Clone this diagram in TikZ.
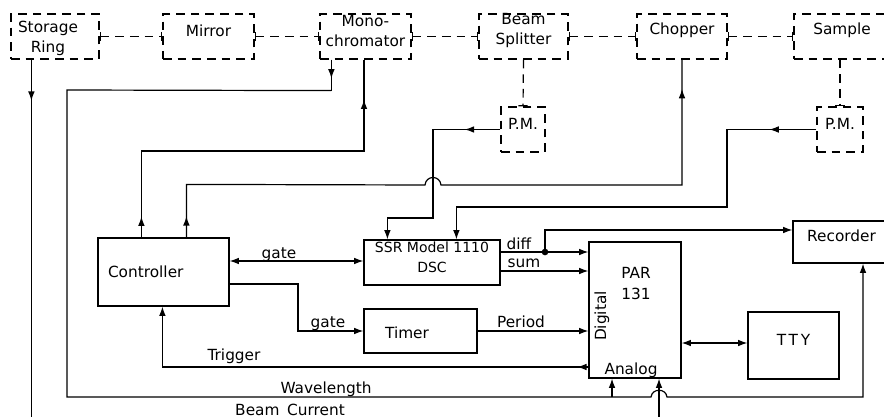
\documentclass[tikz,border=0pt]{standalone}
\usepackage{fontspec}
\setmainfont{DejaVu Sans}
\usetikzlibrary{arrows.meta,calc,fit,decorations.markings}
\tikzset{
  >={Latex[length=7pt,width=5pt]},
  dpat/.style={dash pattern=on 6.5pt off 4.5pt},
  bx/.style={draw, inner sep=0pt, align=center},
  dbx/.style={bx, dpat},
  dline/.style={dpat, {Bar[width=7pt]}-{Bar[width=7pt]}},
  dvline/.style={dpat, -{Bar[width=7pt]}},
  marr/.style={postaction={decorate, decoration={markings, mark=at position #1 with {\arrow{>}}}}},
  lbl/.style={anchor=base},
  jdot/.style={circle, fill, inner sep=0pt, minimum size=5pt},
}
\begin{document}
\begin{tikzpicture}[x=0.75pt,y=-0.75pt,line width=0.9pt,font=\fontsize{11.5}{15}\selectfont]
\clip (0,0) rectangle (884,417);
% ---- optical path boxes
\node[dbx, fit={(11,14)(99,59)}] (sr) {};
\node[align=center] (srt) at (48,38) {Storage\\Ring};
\node[dbx, fit={(163,14)(254,59)}] (mir) {Mirror};
\node[dbx, fit={(320,14)(411,59)}] (mono) {Mono-\\chromator};
\node[dbx, fit={(479,14)(568,59)}] (bs) {Beam\\Splitter};
\node[dbx, fit={(637,14)(727,59)}] (chop) {Chopper};
\node[dbx, fit={(794,14)(890,59)}] (samp) {Sample};
\node[dbx, fit={(501,107)(545,152)}] (pm1) {P.M.};
\node[dbx, fit={(817,107)(863,152)}] (pm2) {P.M.};
% ---- electronics
\node[bx, fit={(98,238)(229,306)}] (ctrl) {};
\node[anchor=base west] (ctrlt) at (103,277) {Controller};
\node[bx, fit={(364,240)(500,285)}, font=\fontsize{10.5}{15}\selectfont] (ssr) {SSR Model 1110\\DSC};
\node[bx, fit={(364,309)(477,353)}] (timer) {};
\node[lbl] (timert) at (407,338) {Timer};
\node[bx, fit={(589,242)(681,378)}] (par) {};
\node[lbl] (part) at (636,278) {PAR};
\node[lbl] (par131) at (636,299) {131};
\node[rotate=90] (dig) at (602,316) {Digital};
\node[lbl] (ana) at (631,374) {Analog};
\node[bx, fit={(748,312)(839,379)}] (tty) {\addfontfeature{LetterSpace=18}TTY};
\node[bx, fit={(793,221)(890,263)}] (rec) {Recorder};
% ---- labels
\node[lbl] (lg1) at (279,258) {gate};
\node[lbl] (ldiff) at (519,249) {diff};
\node[lbl] (lsum) at (524,267) {sum};
\node[lbl] (lg2) at (328,327) {gate};
\node[lbl] (lper) at (521,327) {Period};
\node[lbl] (ltrig) at (234,360) {Trigger};
\node[lbl] (lwave) at (326,393) {Wavelength};
\node[lbl] (lbeam) at (290,415) {Beam\enspace Current};
% ---- helper coordinates
\coordinate (yg) at (0,261);
\coordinate (yd) at (0,252);
\coordinate (ys) at (0,271);
\coordinate (yr) at (0,230);
\coordinate (yc) at (0,284);
\coordinate (yt) at (0,367);
\coordinate (yy) at (0,343);
\coordinate (wp) at (612,397);
\coordinate (wr) at (863,397);
\coordinate (bc) at (659,417);
\coordinate (k1) at (364,151);
\coordinate (k2) at (682,185);
% ---- optical connections
\draw[dline] (sr.east) -- (mir.west);
\draw[dline] (mir.east) -- (mono.west);
\draw[dline] (mono.east) -- (bs.west);
\draw[dline] (bs.east) -- (chop.west);
\draw[dline] (chop.east) -- (samp.west);
\draw[dvline] (bs.south) -- (pm1.north);
\draw[dvline] (samp.south -| pm2.north) -- (pm2.north);
% ---- storage ring beam current
\draw[marr=0.115] ($(sr.south west)+(21,0)$) -- ++(0,358);
% ---- wavelength
\draw[marr=0.61] ($(mono.south west)+(12,0)$) -- ++(0,31) coordinate (wa);
\draw[->] (wa) -- (67,90) -- (67,397) -- (651,397) .. controls (652,388) and (666,388) .. (667,397) -- (wr) -- (wr |- rec.south);
\draw[->] (wp) -- (wp |- par.south);
\draw[->] (bc) -- (bc |- par.south);
% ---- controller to monochromator and chopper
\draw[marr=0.052, marr=0.90] ($(ctrl.north west)+(44,0)$) |- (k1) -- (k1 |- mono.south);
\draw[marr=0.031, marr=0.957] ($(ctrl.north west)+(89,0)$) -- ++(0,-53) -- (425,185) .. controls (426,175) and (440,175) .. (441,185) -- (k2) -- (chop.south);
% ---- photomultipliers to SSR
\draw[marr=0.16, ->] (pm1.west) -| (433,218) -| ($(ssr.north west)+(24,0)$);
\draw[marr=0.1, ->] (pm2.west) -| (727,207) -| ($(ssr.north west)+(93,0)$);
% ---- signals
\draw[<->] (ctrl.east |- yg) -- (ssr.west |- yg);
\node[jdot] (dot) at (545,252) {};
\draw[->] (ssr.east |- yd) -- (par.west |- yd);
\draw[->] (dot.center) |- (rec.west |- yr);
\draw[->] (ssr.east |- ys) -- (par.west |- ys);
\draw[->] (ctrl.east |- yc) -| (298,331) -- (timer.west);
\draw[->] (timer.east) -- (timer.east -| par.west);
\draw[marr=0.023, ->] (par.west |- yt) -| ($(ctrl.south west)+(65,0)$);
\draw[<->] (par.east |- yy) -- (tty.west |- yy);
\end{tikzpicture}
\end{document}
